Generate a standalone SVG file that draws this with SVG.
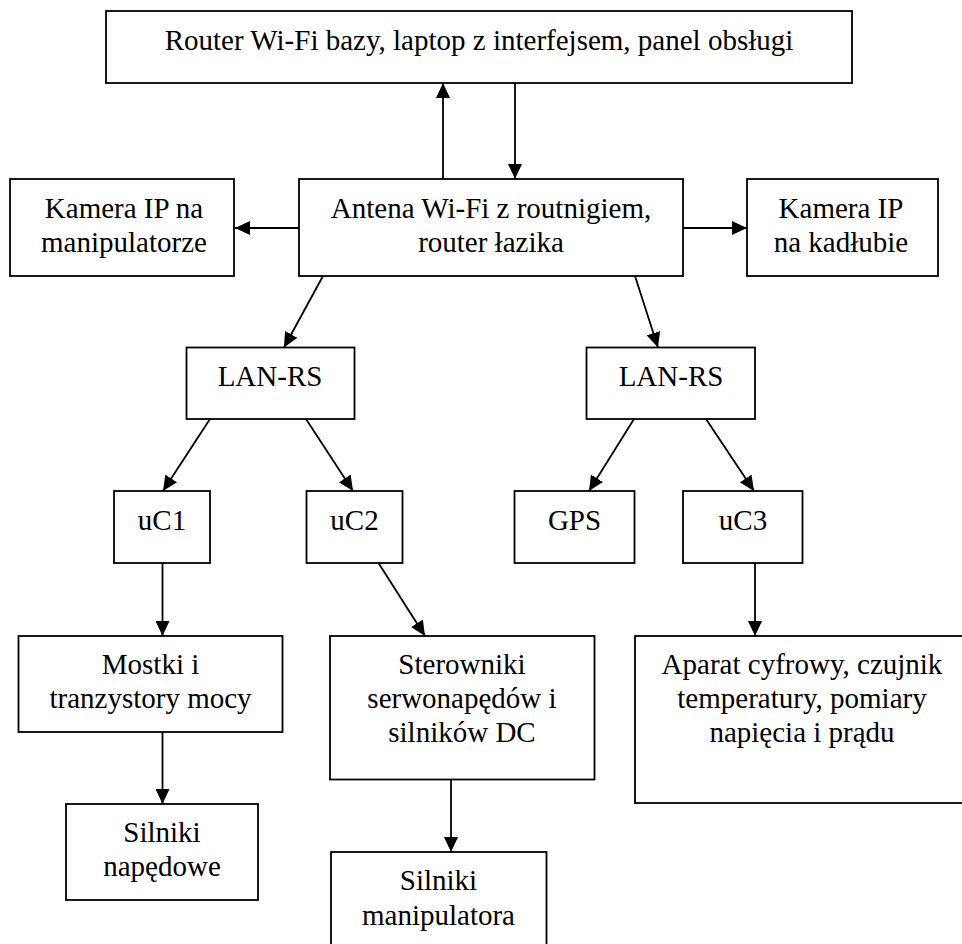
<svg xmlns="http://www.w3.org/2000/svg" width="962" height="944" viewBox="0 0 962 944" font-family="'Liberation Serif', 'Times New Roman', Times, serif">
<style>
rect{fill:#fff;stroke:#000;stroke-width:1.8}
text{font-family:'Liberation Serif','Times New Roman',Times,serif;font-size:29px;fill:#000;text-anchor:middle}
.c line{stroke:#000;stroke-width:1.8;marker-end:url(#ah)}
</style>
<defs>
<marker id="ah" markerUnits="userSpaceOnUse" markerWidth="15" markerHeight="14" refX="15" refY="7" orient="auto">
<path d="M0,0 L15,7 L0,14 z" fill="#000"/>
</marker>
</defs>
<rect x="0" y="0" width="962" height="944" style="stroke:none"/>
<g id="router-bazy"><rect x="106" y="11" width="746" height="72"/><text x="479" y="50">Router Wi-Fi bazy, laptop z interfejsem, panel obsługi</text></g>
<g id="antena"><rect x="299" y="179" width="384" height="97"/><text x="491" y="218">Antena Wi-Fi z routnigiem,</text><text x="491" y="252">router łazika</text></g>
<g id="kamera-manip"><rect x="10" y="179" width="224" height="97"/><text x="124" y="218">Kamera IP na</text><text x="124" y="252">manipulatorze</text></g>
<g id="kamera-kadlub"><rect x="747" y="179" width="191" height="97"/><text x="841" y="218">Kamera IP</text><text x="841" y="252">na kadłubie</text></g>
<g id="lanrs-1"><rect x="186.5" y="347.5" width="168" height="71.5"/><text x="270" y="386">LAN-RS</text></g>
<g id="lanrs-2"><rect x="586.5" y="347.5" width="168.5" height="71.5"/><text x="671" y="386">LAN-RS</text></g>
<g id="uc1"><rect x="114" y="491" width="96" height="72"/><text x="162" y="530">uC1</text></g>
<g id="uc2"><rect x="306.5" y="491" width="96" height="72"/><text x="354.5" y="530">uC2</text></g>
<g id="gps"><rect x="514.5" y="491" width="120" height="72"/><text x="574.5" y="530">GPS</text></g>
<g id="uc3"><rect x="683" y="491" width="119.5" height="72"/><text x="743" y="530">uC3</text></g>
<g id="mostki"><rect x="18.5" y="636" width="264" height="96"/><text x="150.5" y="674">Mostki i</text><text x="150.5" y="708">tranzystory mocy</text></g>
<g id="sterowniki"><rect x="330" y="636" width="264.5" height="143.5"/><text x="462" y="674">Sterowniki</text><text x="462" y="708">serwonapędów i</text><text x="462" y="742">silników DC</text></g>
<g id="aparat"><rect x="635" y="636" width="334" height="167"/><text x="802" y="674">Aparat cyfrowy, czujnik</text><text x="802" y="708">temperatury, pomiary</text><text x="802" y="742">napięcia i prądu</text></g>
<g id="silniki-napedowe"><rect x="66" y="804" width="192" height="96"/><text x="162" y="842">Silniki</text><text x="162" y="876">napędowe</text></g>
<g id="silniki-manip"><rect x="331" y="852" width="215.5" height="100"/><text x="438.5" y="890">Silniki</text><text x="438.5" y="925">manipulatora</text></g>
<g id="connectors" class="c">
<line x1="443" y1="179" x2="443" y2="83"/>
<line x1="515" y1="83" x2="515" y2="179"/>
<line x1="299" y1="228" x2="235" y2="228"/>
<line x1="683" y1="228" x2="747" y2="228"/>
<line x1="323" y1="276" x2="284" y2="347.5"/>
<line x1="635" y1="276" x2="658" y2="347.5"/>
<line x1="210" y1="419" x2="163" y2="491"/>
<line x1="306" y1="419" x2="353" y2="491"/>
<line x1="634" y1="419" x2="589" y2="491"/>
<line x1="706" y1="419" x2="754" y2="491"/>
<line x1="162.5" y1="563" x2="162.5" y2="636"/>
<line x1="378.5" y1="563" x2="425" y2="636"/>
<line x1="755" y1="563" x2="755" y2="636"/>
<line x1="162.5" y1="732" x2="162.5" y2="804"/>
<line x1="451" y1="779.5" x2="451" y2="852"/>
</g>
</svg>
